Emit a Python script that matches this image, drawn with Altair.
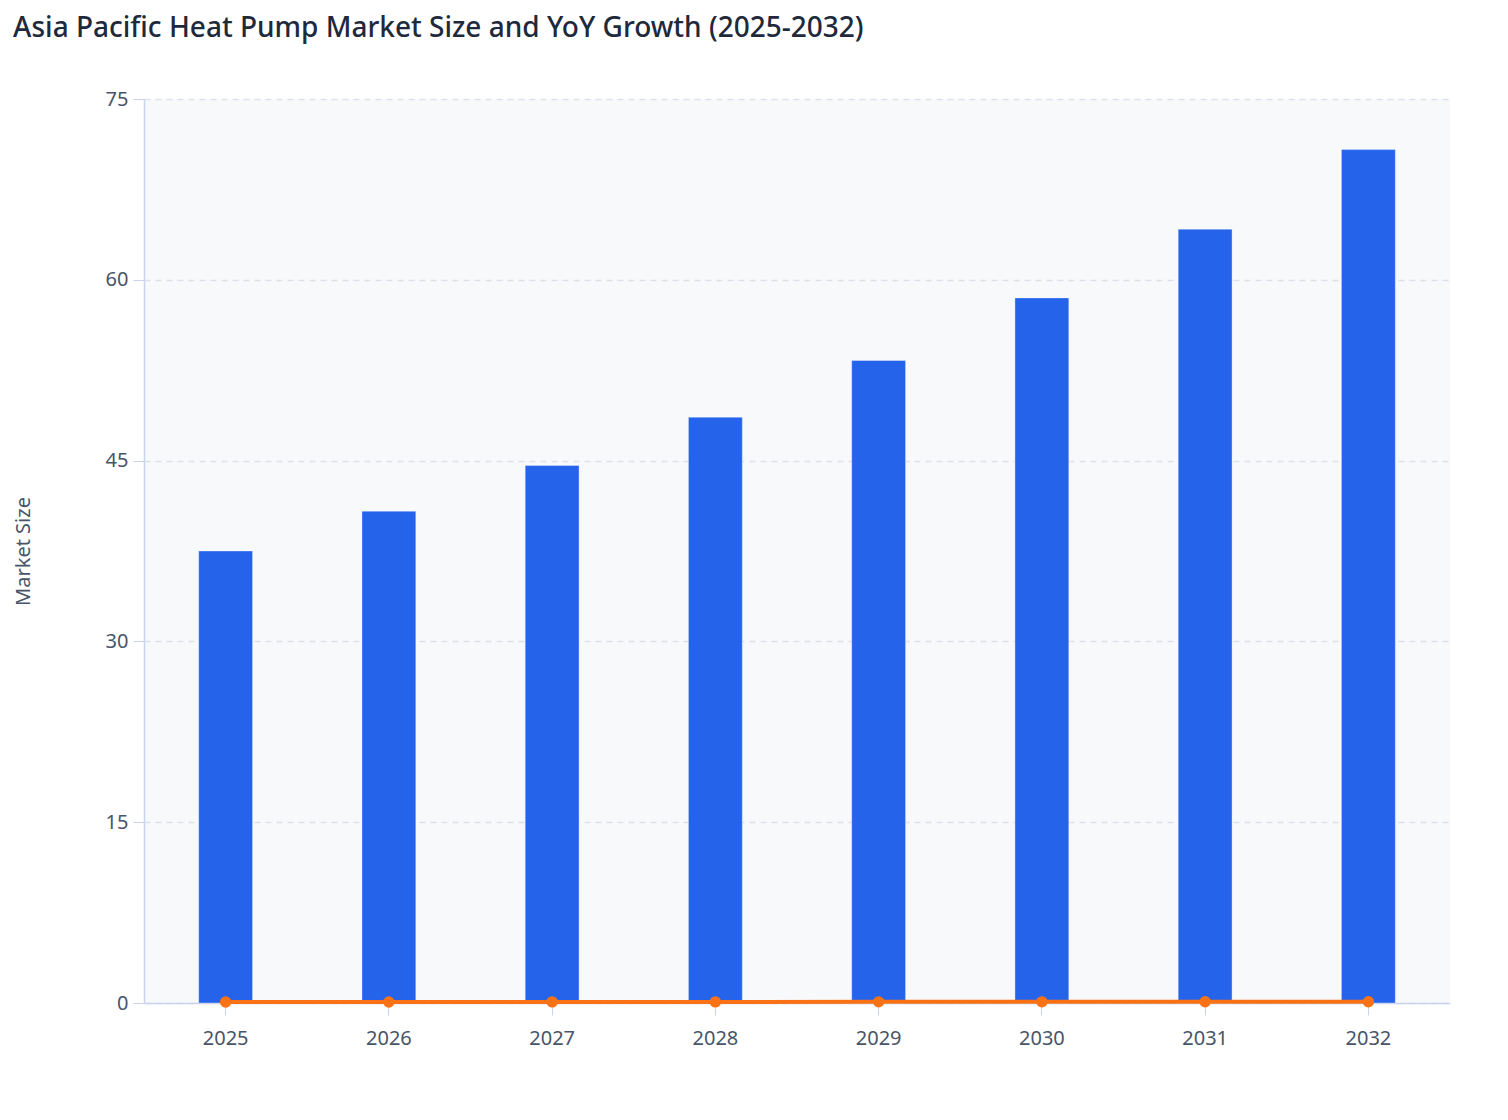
import pandas as pd
import altair as alt

years = ["2025", "2026", "2027", "2028", "2029", "2030", "2031", "2032"]
market_size = [37.5, 40.8, 44.6, 48.6, 53.3, 58.5, 64.2, 70.8]
yoy_growth = [0.085, 0.088, 0.092, 0.091, 0.097, 0.096, 0.099, 0.103]

df = pd.DataFrame({"year": years, "market_size": market_size, "yoy": yoy_growth})

FONT = "Noto Sans"
AXIS_COLOR = "#c8d3ec"
TEXT_COLOR = "#475569"

x_enc = alt.X(
    "year:O",
    title=None,
    scale=alt.Scale(paddingInner=0.67, paddingOuter=0.335),
    axis=alt.Axis(labelAngle=0, labelFontSize=20, labelColor=TEXT_COLOR, labelFont=FONT,
                  tickSize=12, tickColor=AXIS_COLOR, domainColor=AXIS_COLOR, domainWidth=1.5,
                  labelPadding=13, grid=False),
)

bars = alt.Chart(df).mark_bar(color="#2563eb", stroke="#ffffff", strokeOpacity=0.35, strokeWidth=1).encode(
    x=x_enc,
    y=alt.Y(
        "market_size:Q",
        title="Market Size",
        scale=alt.Scale(domain=[0, 75], nice=False),
        axis=alt.Axis(values=[0, 15, 30, 45, 60, 75], labelFontSize=20, labelColor=TEXT_COLOR,
                      labelFont=FONT, titleFont=FONT, titleFontSize=20, titleColor=TEXT_COLOR,
                      titleFontWeight="normal", titlePadding=72, tickSize=11, labelPadding=5,
                      tickColor=AXIS_COLOR, domainColor=AXIS_COLOR, domainWidth=1.5,
                      gridColor="#dde1e9", gridDash=[6, 5], gridWidth=1.5),
    ),
)

line = alt.Chart(df).mark_line(color="#f97316", strokeWidth=4, point=alt.OverlayMarkDef(color="#f97316", size=130, filled=True, opacity=1)).encode(
    x=alt.X("year:O"),
    y=alt.Y("yoy:Q"),
)

chart = (
    alt.layer(bars, line)
    .properties(
        width=1306,
        height=904,
        padding={"left": 5, "top": 7, "right": 5, "bottom": 12},
        title=alt.TitleParams(
            "Asia Pacific Heat Pump Market Size and YoY Growth (2025-2032)",
            anchor="start", frame="bounds", font=FONT, fontSize=28, fontWeight=500,
            color="#1e293b", offset=46,
        ),
    )
    .configure_view(fill="#f8f9fb", stroke=None)
)

chart.save("out.html", embed_options={"renderer": "svg", "actions": False})
